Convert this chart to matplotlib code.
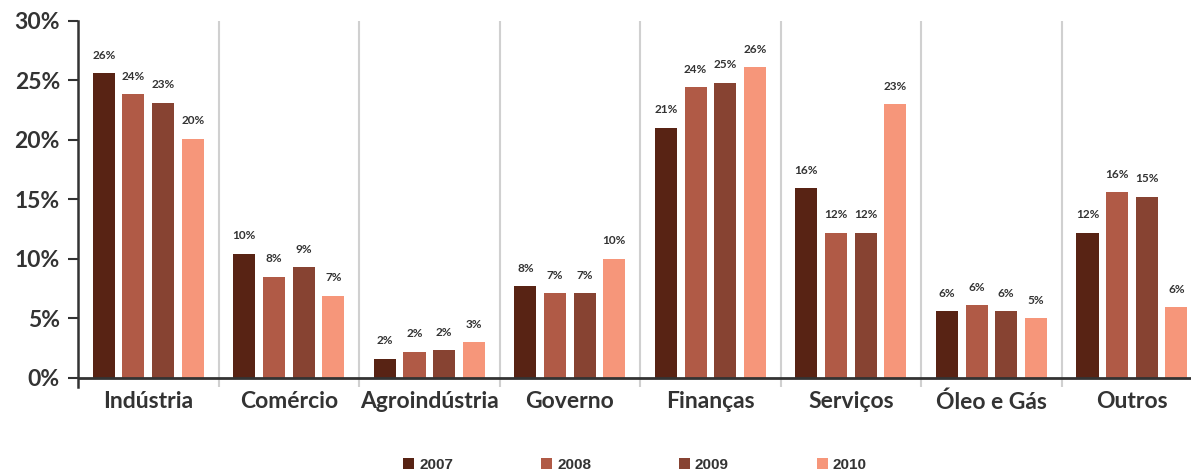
import numpy as np
import matplotlib
matplotlib.use("Agg")
import matplotlib.pyplot as plt

# Data (share per sector, %)
sectors = ['Indústria', 'Comércio', 'Agroindústria', 'Governo',
           'Finanças', 'Serviços', 'Óleo e Gás', 'Outros']
years = ['2007', '2008', '2009', '2010']
v2007 = [25.6, 10.4, 1.6, 7.7, 21.0, 15.9, 5.6, 12.2]
v2008 = [23.8, 8.5, 2.2, 7.1, 24.4, 12.2, 6.1, 15.6]
v2009 = [23.1, 9.3, 2.3, 7.1, 24.8, 12.2, 5.6, 15.2]
v2010 = [20.1, 6.9, 3.0, 10.0, 26.1, 23.0, 5.0, 5.9]
series = [v2007, v2008, v2009, v2010]
colors = ['#582314', '#b05a46', '#874332', '#f6967a']
yticks = [0, 5, 10, 15, 20, 25, 30]

plt.rcParams['font.family'] = ['Lato', 'DejaVu Sans']
dark = '#333333'

fig = plt.figure(figsize=(11.91, 4.75), dpi=100)
ax = fig.add_axes([78 / 1191, 0.1848, 1 - 78 / 1191, 0.7716])

x = np.arange(len(sectors))
step = 0.211
width = 0.157
bars = []
for i, (vals, col, yr) in enumerate(zip(series, colors, years)):
    pos = x + (i - 1.5) * step
    b = ax.bar(pos, vals, width=width, color=col, label=yr, zorder=2)
    bars.append(b)
    for px, v in zip(pos, vals):
        ax.annotate(f"{v:.0f}%", (px, v), xytext=(0, 9), textcoords='offset points',
                    ha='center', va='bottom', fontsize=8.5, fontweight='bold', color=dark)

# separators between categories
for d in x[:-1] + 0.5:
    ax.axvline(d, color='#d0d0d0', lw=1.5, zorder=1)

ax.axhline(0, color=dark, lw=2, zorder=3)

ax.set_xlim(-0.5, 7.42)
ax.set_ylim(-0.8, 30)
ax.set_yticks(yticks)
ax.set_yticklabels([f"{t}%" for t in yticks], fontsize=16.5, fontweight='bold', color=dark)
ax.set_xticks(x)
ax.set_xticklabels(sectors, fontsize=16.5, fontweight='bold', color=dark)
ax.tick_params(axis='x', length=0, pad=3)
ax.tick_params(axis='y', length=7, width=1.5, color=dark, pad=6, direction='out')

for s in ['top', 'right', 'bottom']:
    ax.spines[s].set_visible(False)
ax.spines['left'].set_color(dark)
ax.spines['left'].set_linewidth(1.8)

fig.legend(handles=bars, labels=years, loc='center', ncol=4,
           bbox_to_anchor=(635 / 1191, 1 - 465 / 475), frameon=False,
           prop={'family': 'Liberation Sans', 'weight': 'bold', 'size': 11},
           handlelength=0.72, handleheight=0.72, handletextpad=0.33,
           columnspacing=5.75, labelcolor=dark)

fig.savefig('out.png', dpi=100)
